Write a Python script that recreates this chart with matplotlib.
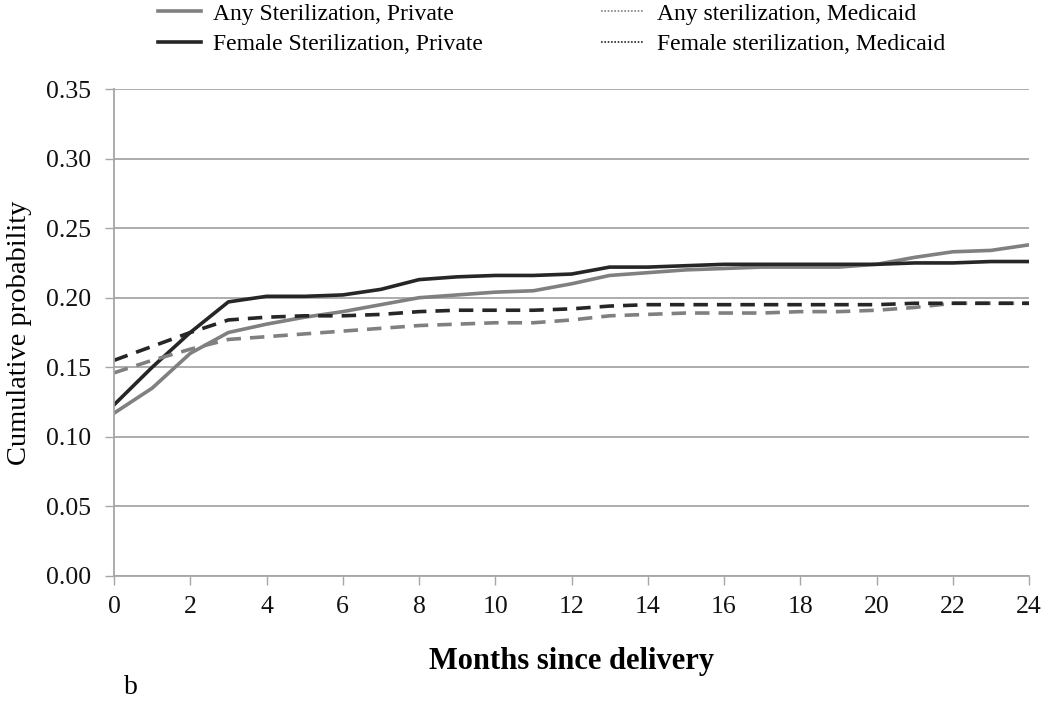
#!/usr/bin/env python3
"""
Cumulative probability of sterilization by months since delivery
(private vs Medicaid), panel b
"""

import matplotlib
matplotlib.use("Agg")
import matplotlib.pyplot as plt
from matplotlib.lines import Line2D

plt.rcParams['font.family'] = ['Liberation Serif', 'DejaVu Serif']

# Data
months = list(range(0, 25))

any_private = [0.117, 0.135, 0.160, 0.175, 0.181, 0.186, 0.190, 0.195, 0.200,
               0.202, 0.204, 0.205, 0.210, 0.216, 0.218, 0.220, 0.221, 0.222,
               0.222, 0.222, 0.224, 0.229, 0.233, 0.234, 0.238]

female_private = [0.123, 0.150, 0.175, 0.197, 0.201, 0.201, 0.202, 0.206, 0.213,
                  0.215, 0.216, 0.216, 0.217, 0.222, 0.222, 0.223, 0.224, 0.224,
                  0.224, 0.224, 0.224, 0.225, 0.225, 0.226, 0.226]

any_medicaid = [0.146, 0.155, 0.163, 0.170, 0.172, 0.174, 0.176, 0.178, 0.180,
                0.181, 0.182, 0.182, 0.184, 0.187, 0.188, 0.189, 0.189, 0.189,
                0.190, 0.190, 0.191, 0.193, 0.196, 0.196, 0.196]

female_medicaid = [0.155, 0.165, 0.175, 0.184, 0.186, 0.187, 0.187, 0.188, 0.190,
                   0.191, 0.191, 0.191, 0.192, 0.194, 0.195, 0.195, 0.195, 0.195,
                   0.195, 0.195, 0.195, 0.196, 0.196, 0.196, 0.196]

labels = ['Any Sterilization, Private', 'Female Sterilization, Private',
          'Any sterilization, Medicaid', 'Female sterilization, Medicaid']

GRAY = '#808080'
DARK = '#262626'
GRID = '#a6a6a6'

fig = plt.figure(figsize=(10.5, 7.19), dpi=100)
ax = fig.add_axes([114 / 1050, 1 - 576 / 719, (1029 - 114) / 1050, (576 - 89) / 719])

ax.plot(months, any_private, color=GRAY, lw=2.6)
ax.plot(months, female_private, color=DARK, lw=2.6)
ax.plot(months, any_medicaid, color=GRAY, lw=2.6, dashes=(4, 2.5))
ax.plot(months, female_medicaid, color=DARK, lw=2.6, dashes=(4, 2.5))

ax.set_xlim(0, 24)
ax.set_ylim(0, 0.35)
ax.set_xticks(range(0, 25, 2))
ax.set_yticks([i * 0.05 for i in range(8)])
ax.set_yticklabels([f"{i * 0.05:.2f}" for i in range(8)])
ax.yaxis.grid(True, color=GRID, lw=1.3)
ax.set_axisbelow(True)

for side in ['top', 'right']:
    ax.spines[side].set_visible(False)
ax.spines['left'].set_color(GRID)
ax.spines['left'].set_linewidth(1.3)
ax.spines['bottom'].set_color(GRID)
ax.spines['bottom'].set_linewidth(1.3)
ax.tick_params(axis='both', direction='out', color=GRID, width=1.0, length=6.5,
               labelsize=18.5, labelcolor='#111111')
ax.tick_params(axis='x', pad=8)
ax.tick_params(axis='y', pad=10)

ax.set_ylabel('Cumulative probability', fontsize=20.5, labelpad=10)
ax.set_xlabel('Months since delivery', fontsize=22, fontweight='bold', labelpad=21)

# Legend with custom handles (Medicaid shown as thin dotted lines)
handles = [
    Line2D([], [], color=GRAY, lw=2.6),
    Line2D([], [], color=DARK, lw=2.6),
    Line2D([], [], color=GRAY, lw=1.2, ls=(0, (1, 1))),
    Line2D([], [], color=DARK, lw=1.2, ls=(0, (1, 1))),
]
fig.legend(handles, labels, loc='upper left', bbox_to_anchor=(158 / 1050, 1 - 3 / 719),
           ncol=2, frameon=False, fontsize=17, handlelength=1.8,
           handletextpad=0.55, columnspacing=5.0, labelspacing=0.38,
           borderpad=0.0, borderaxespad=0.0)

fig.text(124 / 1050, 1 - 694 / 719, 'b', fontsize=20)

fig.savefig('out.png', dpi=100, facecolor='white')
